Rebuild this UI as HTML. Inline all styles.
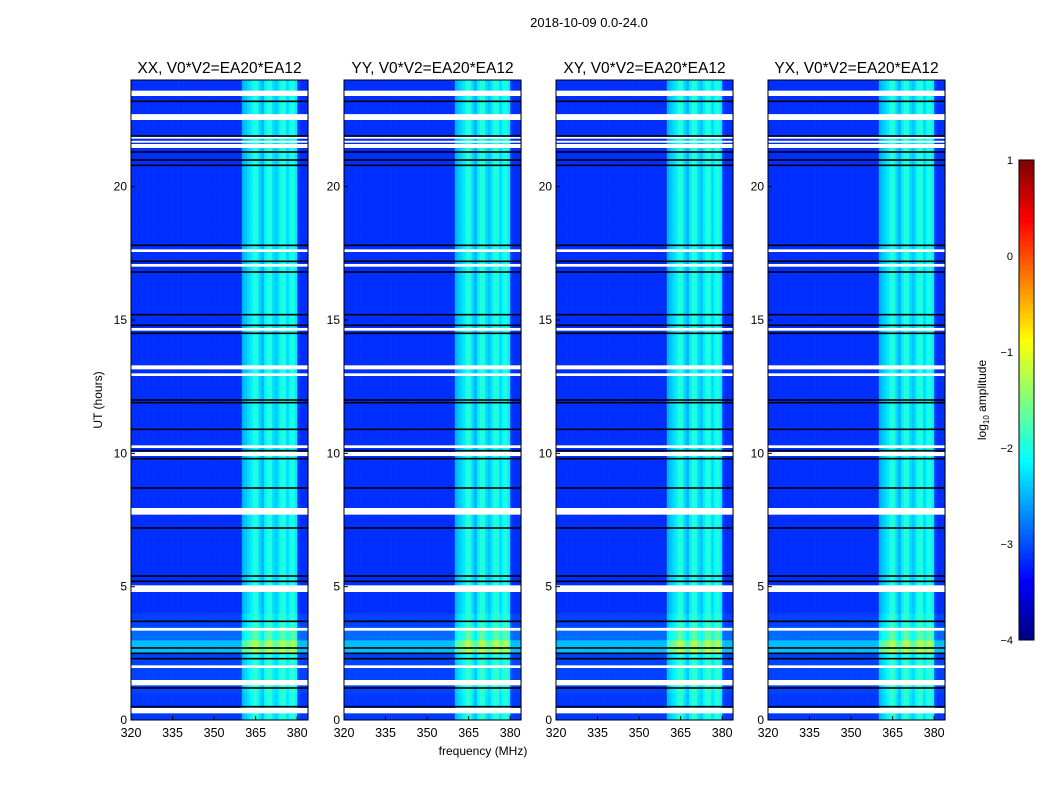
<!DOCTYPE html>
<html><head><meta charset="utf-8"><style>
body{margin:0;background:#fff;}
#root{position:relative;width:1050px;height:800px;font-family:"Liberation Sans",sans-serif;color:#000;}
</style></head><body>
<div id="root">
<svg id="svg" width="1050" height="800" style="position:absolute;left:0;top:0"></svg>
</div>
<script>
// ---- data ----
const panelTitles = ["XX, V0*V2=EA20*EA12","YY, V0*V2=EA20*EA12","XY, V0*V2=EA20*EA12","YX, V0*V2=EA20*EA12"];
const freqStart = 320, freqEnd = 384;
// log10 amplitude per 1-MHz channel, 320..383
const channelLevels = [
-3.15,-3.15,-3.15,-3.15,-3.15,-3.15,-3.15,-3.15,-3.15,-3.15,-3.15,-3.15,-3.15,-3.15,-3.15,-3.15,
-3.15,-3.15,-3.15,-3.15,-3.15,-3.15,-3.15,-3.15,-3.15,-3.15,-3.15,-3.15,-3.15,-3.15,-3.15,-3.15,
-3.15,-3.15,-3.15,-3.15,-3.15,-3.15,-3.15,-3.15,-2.5,-2.4,-2.3,-2.2,-1.95,-2.0,-2.3,-2.5,
-2.2,-1.95,-2.0,-2.3,-2.4,-2.2,-1.95,-2.0,-2.3,-2.1,-1.95,-2.2,-3.1,-3.15,-3.15,-3.15];
// per half-hour offset (0..47)
const halfHourOffsets = [0.05,0.05,0.1,0.1,0.1,0.7,0.3,0.1,0,0,0,0,0,0,0,0,0,0,0,0,0,0,0,0,
0,0,0,0,0,0,0,0,0,0,0,0,0,0,0,0,0,0,0,0,0,0,0,0];
// flagged (white) intervals in hours
const whiteBands = [[0.25,0.45],[1.3,1.5],[1.95,2.05],[3.35,3.45],[4.8,5.05],[7.7,7.95],[9.9,10.05],[10.2,10.3],[12.9,13.0],[13.15,13.3],[14.6,14.7],[17.0,17.1],[17.55,17.65],[21.45,21.6],[21.65,21.72],[21.8,21.87],[22.5,22.72],[23.4,23.6]];
// black line positions in hours
const blackLines = [0.5,1.2,2.3,2.5,2.7,3.7,5.2,5.4,7.2,8.7,9.8,10.1,10.9,11.9,12.0,14.5,14.8,15.2,16.8,17.2,17.8,20.8,21.0,21.3,21.9,23.2];
const yTicks = [0,5,10,15,20];
const xTicks = [320,335,350,365,380];
const cbTicks = [1,0,-1,-2,-3,-4];
const panelLefts = [131,344,556,768];
</script>
<script>
const NS="http://www.w3.org/2000/svg";
const svg=document.getElementById('svg');
const T=80,B=720,W=177,ppm=2.77;
function yOf(h){return B-(h/24)*(B-T);}
function jet(v){
 const f=x=>Math.max(0,Math.min(1,x));
 const r=f(1.5-Math.abs(4*v-3)),g=f(1.5-Math.abs(4*v-2)),b=f(1.5-Math.abs(4*v-1));
 return `rgb(${Math.round(r*255)},${Math.round(g*255)},${Math.round(b*255)})`;}
function col(val){return jet((val+4)/5);}
function el(tag,attrs,txt){const e=document.createElementNS(NS,tag);for(const k in attrs)e.setAttribute(k,attrs[k]);if(txt!==undefined)e.textContent=txt;svg.appendChild(e);return e;}
function txt(x,y,s,size,anchor,name){const t=el('text',{x:x,y:y,'font-size':size,'text-anchor':anchor,fill:'#000'},s);

return t;}
txt(589,27,"2018-10-09 0.0-24.0",13,'middle','figure-title');
panelLefts.forEach((L,p)=>{
 const xOf=f=>L+(f-freqStart)*ppm;
 const g=document.createElementNS(NS,'g');
 
 
 svg.appendChild(g);
 for(let h=0;h<halfHourOffsets.length;h++){
  for(let c=0;c<channelLevels.length;c++){
   const f=freqStart+c;
   const r=document.createElementNS(NS,'rect');
   r.setAttribute('x',xOf(f));r.setAttribute('width',ppm+0.3);
   r.setAttribute('y',yOf((h+1)/2));r.setAttribute('height',yOf(h/2)-yOf((h+1)/2)+0.3);
   r.setAttribute('fill',col(channelLevels[c]+halfHourOffsets[h]));
   
   
   g.appendChild(r);
  }
 }
 whiteBands.forEach(b=>{const r=document.createElementNS(NS,'rect');
  r.setAttribute('x',L);r.setAttribute('width',W);r.setAttribute('y',yOf(b[1]));r.setAttribute('height',yOf(b[0])-yOf(b[1]));r.setAttribute('fill','#fff');
  
  g.appendChild(r);});
 blackLines.forEach(h=>{const r=document.createElementNS(NS,'rect');
  r.setAttribute('x',L);r.setAttribute('width',W);r.setAttribute('y',yOf(h)-0.8);r.setAttribute('height',1.6);r.setAttribute('fill','#000');
  
  g.appendChild(r);});
 const fr=el('rect',{x:L,y:T,width:W,height:B-T,fill:'none',stroke:'#000','stroke-width':1});
 
 
 txt(L+W/2,73,panelTitles[p],15.5,'middle','panel-title');
 yTicks.forEach(v=>{const y=yOf(v);
  const t=el('line',{x1:L,x2:L+4,y1:y,y2:y,stroke:'#000'});
  
  
  txt(L-4,y+4,String(v),12,'end','y-tick-label');});
 xTicks.forEach(v=>{const x=xOf(v);
  const t=el('line',{x1:x,x2:x,y1:B,y2:B-4,stroke:'#000'});
  
  
  txt(x,737,String(v),12.5,'middle','x-tick-label');});
});
txt(483,755,"frequency (MHz)",12,'middle','x-axis-title');
const yl=txt(0,0,"UT (hours)",12,'middle','y-axis-title');yl.setAttribute('transform','translate(102,400) rotate(-90)');
const cbT=160,cbB=640,cbL=1019,cbW=15;
const cbY=v=>cbB-(v+4)/5*(cbB-cbT);
for(let i=0;i<100;i++){const v0=-4+i*0.05;
 const r=el('rect',{x:cbL,width:cbW,y:cbY(v0+0.05),height:(cbB-cbT)/100+0.5,fill:col(v0+0.025)});
 
 }
const cf=el('rect',{x:cbL,y:cbT,width:cbW,height:cbB-cbT,fill:'none',stroke:'#000'});


cbTicks.forEach(v=>{const y=cbY(v);
 const lab=(v<0?'\u2212':'')+Math.abs(v);
 txt(1013,y+4,lab,11,'end','colorbar-tick-label');});
const cl=el('text',{'font-size':12,'text-anchor':'middle',transform:'translate(986,400) rotate(-90)'});


cl.innerHTML='log<tspan font-size="8" dy="3">10</tspan><tspan dy="-3"> amplitude</tspan>';
</script>
</body></html>
